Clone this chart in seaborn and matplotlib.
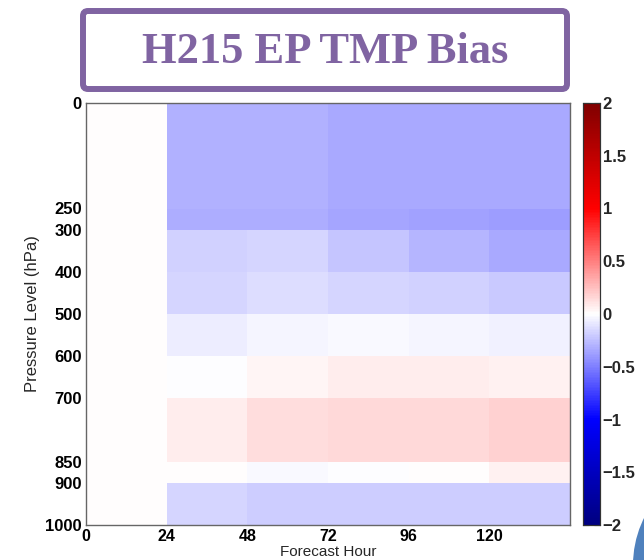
import numpy as np
import pandas as pd
import matplotlib
matplotlib.use("Agg")
import matplotlib.pyplot as plt
import matplotlib.patches as mpatches
from matplotlib.colors import LinearSegmentedColormap
from matplotlib.transforms import IdentityTransform
import seaborn as sns

# ---------------- data ----------------
hour_edges = [0, 24, 48, 72, 96, 120, 144]
level_edges = [0, 250, 300, 400, 500, 600, 700, 850, 900, 1000]
x_ticks = [0, 24, 48, 72, 96, 120]
y_ticks = [0, 250, 300, 400, 500, 600, 700, 850, 900, 1000]
cbar_ticks = [-2, -1.5, -1, -0.5, 0, 0.5, 1, 1.5, 2]

# bias per forecast-hour bin, levels top (0-250) to bottom (900-1000)
bias_f000 = [0.015, 0.015, 0.015, 0.015, 0.015, 0.015, 0.015, 0.015, 0.015]
bias_f024 = [-0.31, -0.32, -0.18, -0.165, -0.07, -0.01, 0.075, 0.005, -0.165]
bias_f048 = [-0.31, -0.315, -0.165, -0.135, -0.045, 0.045, 0.14, -0.03, -0.20]
bias_f072 = [-0.33, -0.345, -0.22, -0.16, -0.03, 0.075, 0.155, -0.005, -0.20]
bias_f096 = [-0.33, -0.36, -0.29, -0.185, -0.045, 0.075, 0.155, 0.005, -0.19]
bias_f120 = [-0.33, -0.39, -0.335, -0.21, -0.06, 0.05, 0.175, 0.05, -0.195]
bias_cols = [bias_f000, bias_f024, bias_f048, bias_f072, bias_f096, bias_f120]

title = "H215 EP TMP Bias"
xlabel = "Forecast Hour"
ylabel = "Pressure Level (hPa)"

# ---------------- build long table ----------------
hour_mid = [(a + b) / 2 for a, b in zip(hour_edges[:-1], hour_edges[1:])]
level_mid = [(a + b) / 2 for a, b in zip(level_edges[:-1], level_edges[1:])]
rows = []
for h, col in zip(hour_mid, bias_cols):
    for lv, v in zip(level_mid, col):
        rows.append({"hour": h, "level": lv, "bias": v})
df = pd.DataFrame(rows)

# ---------------- style ----------------
sns.set_style("white")
plt.rcParams["font.family"] = ["Liberation Sans", "DejaVu Sans"]
plt.rcParams["axes.unicode_minus"] = True

cmap = LinearSegmentedColormap.from_list(
    "bwr_dark", [(0, 0, 0.5), (0, 0, 1), (1, 1, 1), (1, 0, 0), (0.5, 0, 0)])

W, H = 644, 560
fig = plt.figure(figsize=(W / 100, H / 100), dpi=100)
fig.patch.set_facecolor("white")

ax = fig.add_axes([86 / W, 1 - 525 / H, 484 / W, 422 / H])
cax = fig.add_axes([583 / W, 1 - 525 / H, 17 / W, 422 / H])

sns.histplot(data=df, x="hour", y="level", weights="bias",
             bins=[hour_edges, level_edges], thresh=None,
             cmap=cmap, vmin=-2, vmax=2, linewidth=0,
             cbar=True, cbar_ax=cax, ax=ax)

ax.set_xlim(hour_edges[0], hour_edges[-1])
ax.set_ylim(level_edges[-1], level_edges[0])
ax.set_xticks(x_ticks)
ax.set_yticks(y_ticks)
ax.set_xticklabels([str(t) for t in x_ticks], fontweight="bold", fontsize=11.5)
ax.set_yticklabels([str(t) for t in y_ticks], fontweight="bold", fontsize=12)
ax.tick_params(axis="both", direction="in", length=0, colors="black")
ax.tick_params(axis="x", pad=3)
ax.tick_params(axis="y", pad=3)
ax.set_xlabel(xlabel, fontsize=11)
ax.xaxis.set_label_coords(0.5, -(545 - 525) / 422)
ax.xaxis.label.set_va("top")
ax.set_ylabel(ylabel, fontsize=12, labelpad=4)
for s in ax.spines.values():
    s.set_visible(True)
    s.set_color("#666666")
    s.set_linewidth(1.0)

cax.set_yticks(cbar_ticks)
cax.set_yticklabels(["\u22122", "\u22121.5", "\u22121", "\u22120.5", "0",
                     "0.5", "1", "1.5", "2"], fontweight="bold", fontsize=12)
cax.tick_params(axis="y", direction="in", length=4, width=0.8, pad=2,
                left=True, right=True, labelleft=False, labelright=True)
for s in cax.spines.values():
    s.set_visible(True)
    s.set_color("#333333")
    s.set_linewidth(0.8)

# ---------------- title box ----------------
box = mpatches.FancyBboxPatch((83, H - 89), 484, 78,
                              boxstyle="round,pad=0,rounding_size=5",
                              transform=IdentityTransform(),
                              facecolor="white", edgecolor="#8064A2",
                              linewidth=4.3, zorder=5)
fig.patches.append(box)
fig.text(325 / W, 1 - 63 / H, title, ha="center", va="baseline",
         fontsize=32, fontweight="bold", color="#8064A2",
         family=["Liberation Serif", "DejaVu Serif"], zorder=6)

# decorative circle (slide ornament)
circ = mpatches.Circle((739, H - 565), 106, transform=IdentityTransform(),
                       facecolor="#4F81BD", edgecolor="none", zorder=5)
fig.patches.append(circ)

fig.savefig("out.png", dpi=100)
